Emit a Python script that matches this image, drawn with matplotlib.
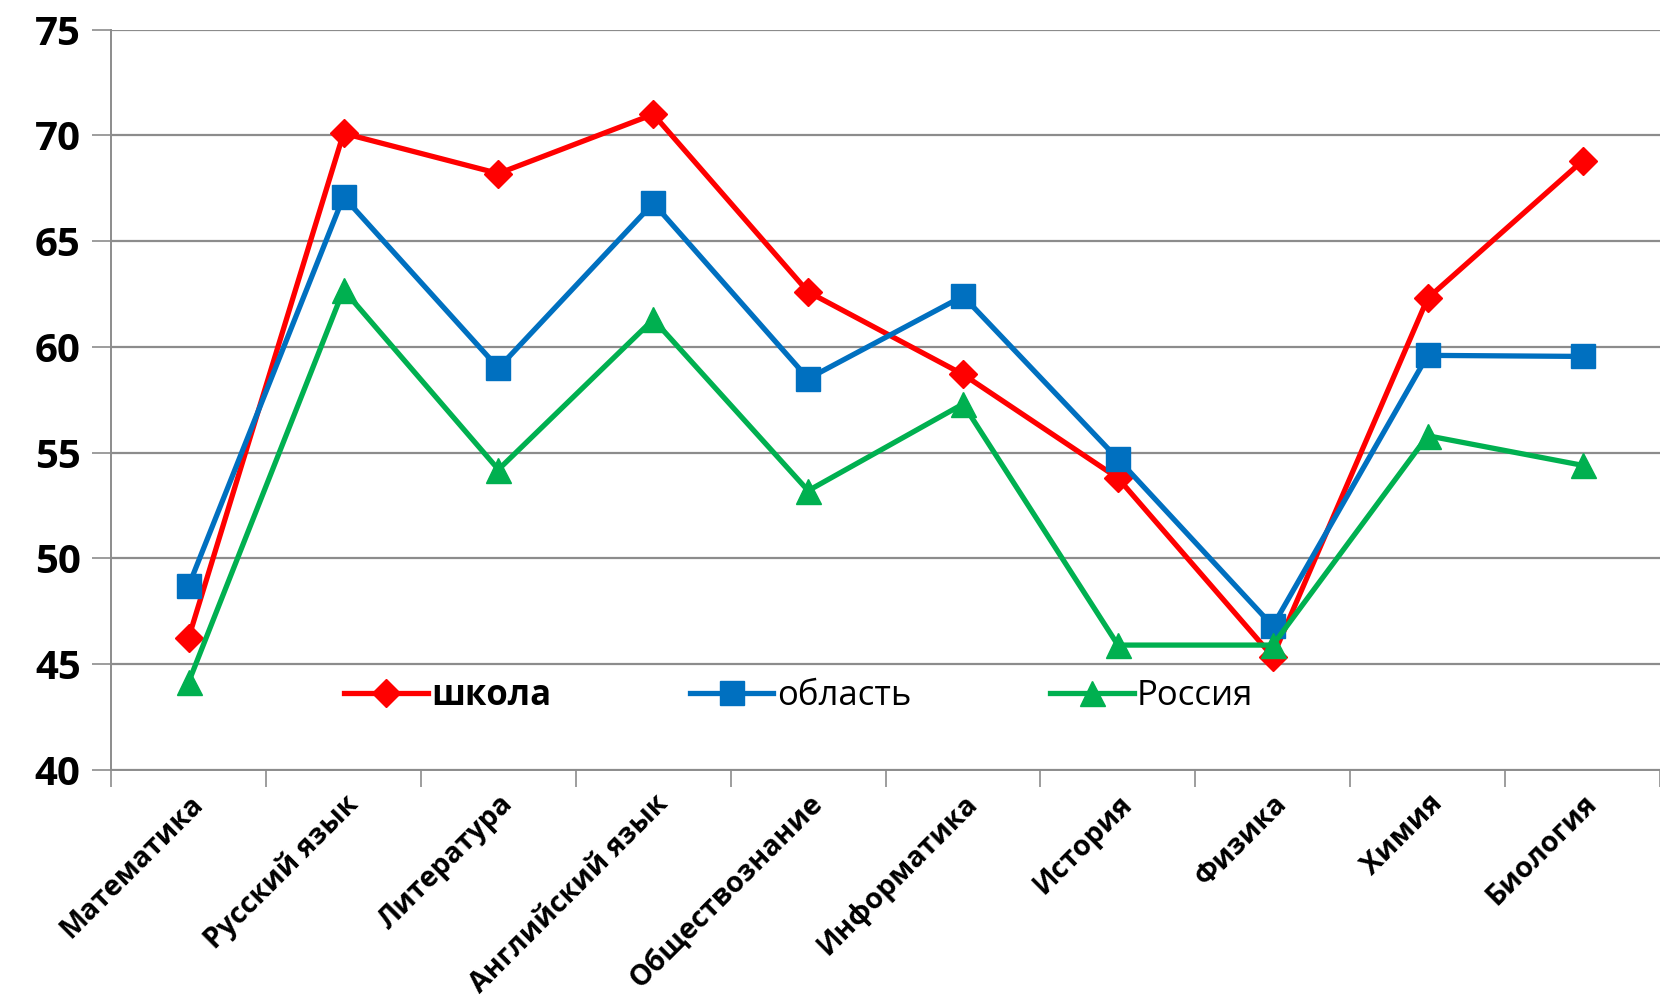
import matplotlib.pyplot as plt
import numpy as np

subjects = ['Математика', 'Русский язык', 'Литература', 'Английский язык',
            'Обществознание', 'Информатика', 'История', 'Физика', 'Химия', 'Биология']
school = [46.25, 70.1, 68.2, 71.0, 62.6, 58.7, 53.8, 45.35, 62.3, 68.8]
region = [48.7, 67.1, 59.0, 66.8, 58.5, 62.4, 54.7, 46.8, 59.6, 59.55]
russia = [44.15, 62.7, 54.2, 61.3, 53.2, 57.3, 45.9, 45.9, 55.8, 54.4]
series_names = ['школа', 'область', 'Россия']

plt.rcParams['font.family'] = ['Open Sans', 'DejaVu Sans']

fig = plt.figure(figsize=(16.6, 10.07), dpi=100)
ax = fig.add_axes([0.067, 0.2355, 0.933, 0.735])

x = np.arange(len(subjects))
ax.plot(x, school, color='#ff0000', lw=3.8, marker='D', ms=14, label=series_names[0], zorder=3)
ax.plot(x, region, color='#0070c0', lw=3.8, marker='s', ms=17, label=series_names[1], zorder=4)
ax.plot(x, russia, color='#00b050', lw=3.8, marker='^', ms=18, label=series_names[2], zorder=5)

ax.set_xlim(-0.5, len(subjects) - 0.5)
ax.set_ylim(40, 75)
ax.set_yticks(np.arange(40, 76, 5))
ax.yaxis.grid(True, color='#8c8c8c', lw=1.6)
ax.set_axisbelow(True)

ax.set_xticks(np.arange(-0.5, len(subjects)), labels=[])
ax.set_xticks(x, minor=True)
ax.set_xticklabels(subjects, minor=True, rotation=45, ha='right', va='top',
                   rotation_mode='anchor', fontsize=20.5, fontweight='bold')
ax.tick_params(axis='x', which='major', length=12, width=1.2, color='#8c8c8c', direction='out')
ax.tick_params(axis='x', which='minor', length=0, pad=14)
ax.tick_params(axis='y', length=14, width=1.2, color='#8c8c8c', labelsize=29, pad=8)
for lbl in ax.get_yticklabels():
    lbl.set_fontweight('bold')

for side in ['top', 'right']:
    ax.spines[side].set_visible(False)
for side in ['left', 'bottom']:
    ax.spines[side].set_color('#8c8c8c')
    ax.spines[side].set_linewidth(1.4)

leg = ax.legend(loc='center', bbox_to_anchor=(0.444, 0.1), ncol=3, frameon=False,
                fontsize=25, handlelength=2.4, handletextpad=0.1, columnspacing=4.0)
leg.get_texts()[0].set_fontweight('bold')

fig.savefig('out.png', dpi=100)
